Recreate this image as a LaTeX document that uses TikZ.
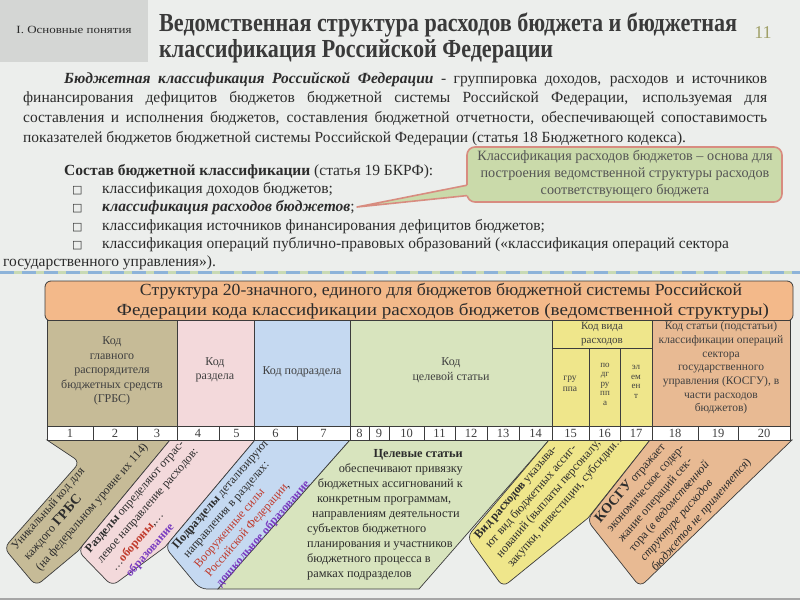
\documentclass[tikz,border=0pt]{standalone}
\usepackage{graphicx}
\usepackage{fontspec}
\setmainfont{Liberation Serif}
\newfontfamily\titlef{Liberation Serif}[FakeStretch=0.82]
\newfontfamily\symf{DejaVu Sans}
\newcommand\fitw[2]{\resizebox{#1}{\height}{#2}}
\newcommand\fsz[2]{\fontsize{#1}{#2}\selectfont}
\definecolor{bgc}{HTML}{ECEEEC}
\definecolor{hdrc}{HTML}{D4D6D4}
\definecolor{titlec}{HTML}{3A3A3A}
\definecolor{txt}{HTML}{2C2C2C}
\definecolor{tabtxt}{HTML}{404040}
\definecolor{olivec}{HTML}{A0A068}
\definecolor{callg}{HTML}{CADAAA}
\definecolor{callb}{HTML}{D88C80}
\definecolor{calltxt}{HTML}{555555}
\definecolor{sepg}{HTML}{C9DAB4}
\definecolor{sepb}{HTML}{8DB3D9}
\definecolor{orhdr}{HTML}{F3B98A}
\definecolor{cbrown}{HTML}{C6BB97}
\definecolor{cpink}{HTML}{F3D9DB}
\definecolor{cblue}{HTML}{C5D9F1}
\definecolor{cgrn}{HTML}{D8E4BE}
\definecolor{cyel}{HTML}{EFE68B}
\definecolor{corg}{HTML}{E8BA93}
\definecolor{lnc}{HTML}{3C3C3C}
\definecolor{redt}{HTML}{C0392B}
\definecolor{purt}{HTML}{7A3DC0}
\begin{document}
\begin{tikzpicture}[x=1pt,y=-1pt,
  band/.style={draw=lnc, line width=0.7pt},
  tcell/.style={draw=lnc, line width=0.6pt},
  tt/.style={align=center, inner sep=0pt, text=tabtxt, font=\fsz{12}{14.5}},
  btxt/.style={rotate=49, anchor=north west, align=left, inner sep=0pt, text=txt, font=\fsz{12}{14.5}},
  ptxt/.style={anchor=base west, inner sep=0pt, text=txt, font=\fsz{15.5}{19.5}},
  gtxt/.style={inner sep=0pt, text=txt, font=\fsz{12.3}{15}}]
\useasboundingbox (0,0) rectangle (800,600);
\fill[bgc] (0,0) rectangle (800,600);
\fill[hdrc] (0,0) rectangle (148,62);
\draw[gray!70, line width=2pt] (0,599) -- (800,599);

% header
\node[text=txt] (sec) at (74,30) {\fitw{115pt}{\titlef\fsz{11}{13}I. Основные понятия}};
\node[text=titlec, inner sep=0pt, anchor=base west] (title1) at (159,31) {\fitw{578pt}{\titlef\bfseries\fsz{26}{30}Ведомственная структура расходов бюджета и бюджетная}};
\node[text=titlec, inner sep=0pt, anchor=base west] (title2) at (159,57) {\fitw{394pt}{\titlef\bfseries\fsz{26}{30}классификация Российской Федерации}};
\node[text=olivec, font=\fsz{18}{20}] (pnum) at (763,33) {11};

% paragraph
\node[ptxt] (p1) at (64,83) {\makebox[703pt][s]{\textbf{\textit{Бюджетная классификация Российской Федерации}} - группировка доходов, расходов и источников}};
\node[ptxt] (p2) at (23,102) {\makebox[744pt][s]{финансирования дефицитов бюджетов бюджетной системы Российской Федерации, используемая для}};
\node[ptxt] (p3) at (23,122) {\makebox[744pt][s]{составления и исполнения бюджетов, составления бюджетной отчетности, обеспечивающей сопоставимость}};
\node[ptxt] (p4) at (23,142) {показателей бюджетов бюджетной системы Российской Федерации (статья 18 Бюджетного кодекса).};

% composition list
\node[ptxt] (c0) at (64,175) {\textbf{Состав бюджетной классификации} (статья 19 БКРФ):};
\foreach \yy/\nm in {193/1,211/2,230/3,248/4}{
  \node[anchor=base west, inner sep=0pt, text=txt, font=\symf\fsz{11}{13}] (sq\nm) at (72,\yy) {□};
}
\node[ptxt] (l1) at (102,193) {классификация доходов бюджетов;};
\node[ptxt] (l2) at (102,211) {\textbf{\textit{классификация расходов бюджетов}};};
\node[ptxt] (l3) at (102,230) {классификация источников финансирования дефицитов бюджетов;};
\node[ptxt] (l4) at (102,248) {классификация операций публично-правовых образований («классификация операций сектора};
\node[ptxt] (l5) at (3,266) {государственного управления»).};

% callout
\draw[fill=callg, draw=callb, line width=1.6pt, rounded corners=8pt] (467,147) rectangle (782,202);
\fill[callg] (357,207) -- (471,184.4) -- (471,195.2) -- cycle;
\draw[callb, line width=1.6pt, line join=round] (467,185.2) -- (357,207) -- (467,195.6);
\node[align=center, text=calltxt, font=\fsz{14.2}{17}, inner sep=0pt] (callout) at (625,174)
  {Классификация расходов бюджетов – основа для\\построения ведомственной структуры расходов\\соответствующего бюджета};

% separator
\draw[line width=3pt, sepg] (0,272) -- (800,272);
\draw[line width=3pt, sepb, dash pattern=on 14pt off 8pt] (0,272) -- (800,272);

% orange header
\draw[fill=orhdr, draw=lnc, line width=0.8pt, rounded corners=6pt] (45,281) rectangle (793,321);
\node[text=txt, inner sep=0pt] (h1) at (441,291) {\fitw{602pt}{\fsz{17}{20}Структура 20-значного, единого для бюджетов бюджетной системы Российской}};
\node[text=txt, inner sep=0pt] (h2) at (443,311) {\fitw{652pt}{\fsz{17}{20}Федерации кода классификации расходов бюджетов (ведомственной структуры)}};

% table columns
\draw[tcell, fill=cbrown] (47,320) rectangle (177,426);
\draw[tcell, fill=cpink] (177,320) rectangle (254,426);
\draw[tcell, fill=cblue] (254,320) rectangle (350,426);
\draw[tcell, fill=cgrn] (350,320) rectangle (552,426);
\draw[tcell, fill=cyel] (552,320) rectangle (652,426);
\draw[tcell] (552,348) -- (652,348);
\draw[tcell] (589,348) -- (589,426);
\draw[tcell] (620,348) -- (620,426);
\draw[tcell, fill=corg] (652,320) rectangle (790,426);

\node[tt] (cgrbs) at (112,371) {Код\\главного\\распорядителя\\бюджетных средств\\(ГРБС)};
\node[tt] (craz) at (215,370) {Код\\раздела};
\node[tt] (cpodr) at (302,372) {Код подраздела};
\node[tt] (ccel) at (451,370) {Код\\целевой статьи};
\node[tt, font=\fsz{11}{13.5}] (cvid) at (602,334) {Код вида\\расходов};
\node[tt, font=\fsz{9.5}{11}] (cgr) at (570,384) {гру\\ппа};
\node[tt, font=\fsz{9}{9.5}] (cpgr) at (605,384) {по\\дг\\ру\\пп\\а};
\node[tt, font=\fsz{9}{9.5}] (cel) at (636,382) {эл\\ем\\ен\\т};
\node[tt, font=\fsz{11.5}{13.7}] (ckosgu) at (721,368) {Код статьи (подстатьи)\\классификации операций\\сектора\\государственного\\управления (КОСГУ), в\\части расходов\\бюджетов)};

% bands
\draw[band, fill=cbrown] (47,440) -- (170,440) -- (78,551) [rounded corners=7pt] -- (36,586) -- (4,548) -- (80,462) [sharp corners] -- cycle;
\draw[band, fill=cpink] (170,440) -- (255,440) -- (165,547) [rounded corners=7pt] -- (112,586) -- (78,551) -- (124,495.5) [sharp corners] -- cycle;
\draw[band, fill=cblue] (255,440) -- (350,440) -- (218,589) [rounded corners=7pt] -- (200,589) -- (165,547) -- (210,493.5) [sharp corners] -- cycle;
\draw[band, fill=cgrn] (350,440) -- (549,440) -- (419,589) -- (218,589) -- cycle;
\draw[band, fill=cyel] (549,440) -- (650,440) -- (588,518) [rounded corners=7pt] -- (503,587) -- (467,537) -- (508,488.5) [sharp corners] -- cycle;
\draw[band, fill=corg] (650,440) -- (792,440) -- (716,513.5) [rounded corners=7pt] -- (640,587) -- (587,520) -- (618.5,480) [sharp corners] -- cycle;

% band texts
\node[btxt, font=\fsz{12}{16}] (tbrown) at (10,545) {Уникальный код для\\каждого {\fsz{14}{16}\bfseries ГРБС}\\(на федеральном уровне их 114)};
\node[btxt, font=\fsz{12}{15.5}] (tpink) at (84,548) {\textbf{Разделы} определяют отрас-\\левое направление расходов:\\\hspace*{3pt}\dots{\color{redt}\textbf{обороны}},\dots\\\hspace*{8pt}{\color{purt}\textbf{образование}}};
\node[btxt] (tblue) at (171,544) {\textbf{Подразделы} детализируют\\направления в разделах:\\{\color{redt}Вооруженные силы}\\{\color{redt}Российской Федерации},\\{\color{purt}\textbf{дошкольное образование}}};
\node[btxt] (tyel) at (473,534) {\textbf{Вид расходов} указыва-\\ют вид бюджетных ассиг-\\нований (выплаты персоналу,\\закупки, инвестиции, субсидии\dots)};
\node[btxt, font=\fsz{12}{14.8}] (torg) at (593,517) {{\fsz{14}{15}\textbf{КОСГУ}} отражает\\экономическое содер-\\жание операций сек-\\тора (\textit{в ведомственной}\\\textit{структуре расходов}\\\textit{бюджетов не применяется})};

% green text
\node[gtxt, anchor=base east] (g1) at (463,457) {\textbf{Целевые статьи}};
\node[gtxt, anchor=base east] (g2) at (463,472) {обеспечивают привязку};
\node[gtxt, anchor=base east] (g3) at (463,487) {бюджетных ассигнований к};
\node[gtxt, anchor=base west] (g4) at (317,502) {конкретным программам,};
\node[gtxt, anchor=base west] (g5) at (312,517) {направлениям деятельности};
\node[gtxt, anchor=base west] (g6) at (307,532) {субъектов бюджетного};
\node[gtxt, anchor=base west] (g7) at (307,547) {планирования и участников};
\node[gtxt, anchor=base west] (g8) at (307,562) {бюджетного процесса в};
\node[gtxt, anchor=base west] (g9) at (307,577) {рамках подразделов};

% number row
\foreach \a/\b/\n in {47/93/1,93/137/2,137/177/3,177/219/4,219/254/5,254/297/6,297/350/7,350/369/8,369/389/9,389/424/10,424/455/11,455/487/12,487/519/13,519/552/14,552/589/15,589/620/16,620/652/17,652/698/18,698/738/19,738/790/20}{
  \draw[tcell, fill=white] (\a,426) rectangle (\b,440);
  \node[font=\fsz{12.5}{14}, text=tabtxt, inner sep=0pt] (n\n) at ({(\a+\b)/2},433.5) {\n};
}
\end{tikzpicture}
\end{document}
